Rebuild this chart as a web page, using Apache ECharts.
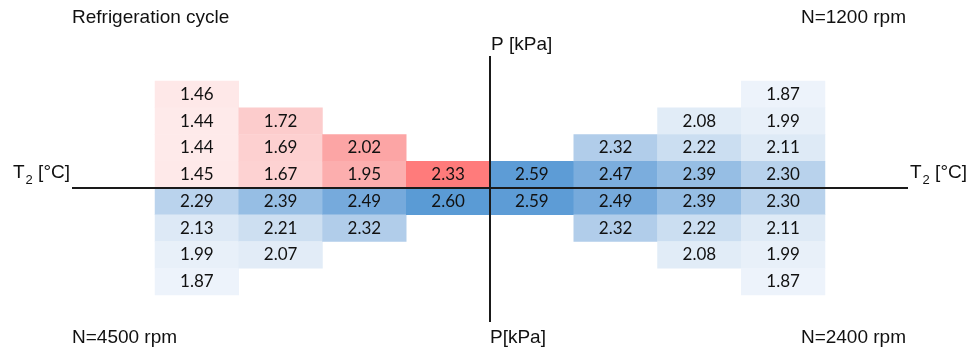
<!DOCTYPE html>
<html>
<head>
<meta charset="utf-8">
<script src="https://cdn.jsdelivr.net/npm/echarts@6/dist/echarts.min.js"></script>
<style>html,body{margin:0;padding:0;background:#fff;}#c{width:973px;height:360px;}</style>
</head>
<body>
<div id="c"></div>
<script>
// Column / row categories (hidden axes)
const colCats = ['c1', 'c2', 'c3', 'c4', 'c5', 'c6', 'c7', 'c8'];
const rowCats = ['r1', 'r2', 'r3', 'r4', 'r5', 'r6', 'r7', 'r8'];

// Top-left quadrant (refrigeration cycle, red), per column, top to bottom, ending at row 4
const redTopLeft = [[1.46, 1.44, 1.44, 1.45], [1.72, 1.69, 1.67], [2.02, 1.95], [2.33]];
// Bottom-left quadrant (N=4500 rpm), per column, starting at row 5
const blueBottomLeft = [[2.29, 2.13, 1.99, 1.87], [2.39, 2.21, 2.07], [2.49, 2.32], [2.60]];
// Top-right quadrant (N=1200 rpm), columns 5..8, ending at row 4
const blueTopRight = [[2.59], [2.32, 2.47], [2.08, 2.22, 2.39], [1.87, 1.99, 2.11, 2.30]];
// Bottom-right quadrant (N=2400 rpm), columns 5..8, starting at row 5
const blueBottomRight = [[2.59], [2.49, 2.32], [2.39, 2.22, 2.08], [2.30, 2.11, 1.99, 1.87]];

function endingAt(cols, colOffset, lastRow) {
  const out = [];
  cols.forEach((vals, i) => {
    const start = lastRow - vals.length + 1;
    vals.forEach((v, j) => out.push([colOffset + i, start + j, v]));
  });
  return out;
}
function startingAt(cols, colOffset, firstRow) {
  const out = [];
  cols.forEach((vals, i) => {
    vals.forEach((v, j) => out.push([colOffset + i, firstRow + j, v]));
  });
  return out;
}

const redData = endingAt(redTopLeft, 0, 3);
const blueData = startingAt(blueBottomLeft, 0, 4)
  .concat(endingAt(blueTopRight, 4, 3))
  .concat(startingAt(blueBottomRight, 4, 4));

const chart = echarts.init(document.getElementById('c'), null, { renderer: 'canvas' });

const labelFont = 'Liberation Sans, Arial, Helvetica, sans-serif';
const cellLabel = {
  show: true,
  fontFamily: 'Lato, sans-serif',
  fontSize: 17,
  color: '#111',
  formatter: p => p.value[2].toFixed(2)
};

function tLabel(x, align) {
  return {
    type: 'text', z: 100, x: x, y: 177,
    style: {
      text: '{t|T}{s|2}{t| [°C]}',
      align: align, verticalAlign: 'middle',
      fill: '#111',
      rich: {
        t: { fontFamily: labelFont, fontSize: 19, lineHeight: 20, padding: [0, 0, 5, 0], verticalAlign: 'bottom', fill: '#111' },
        s: { fontFamily: labelFont, fontSize: 13, lineHeight: 13, padding: [0, 0, 0, 1], verticalAlign: 'bottom', fill: '#111' }
      }
    }
  };
}
function plain(text, x, y, align) {
  return {
    type: 'text', z: 100, x: x, y: y,
    style: { text: text, fontFamily: labelFont, fontSize: 19, fill: '#111', align: align || 'left', verticalAlign: 'middle' }
  };
}

chart.setOption({
  animation: false,
  backgroundColor: '#fff',
  grid: { left: 155, width: 670, top: 81, height: 214 },
  xAxis: {
    type: 'category', data: colCats,
    axisLine: { show: false }, axisTick: { show: false }, axisLabel: { show: false }, splitLine: { show: false }
  },
  yAxis: {
    type: 'category', data: rowCats, inverse: true,
    axisLine: { show: false }, axisTick: { show: false }, axisLabel: { show: false }, splitLine: { show: false }
  },
  visualMap: [
    {
      show: false, type: 'continuous', seriesIndex: 0, dimension: 2,
      min: 1.44, max: 2.34,
      inRange: { color: ['#feeaea', '#fdd8d8', '#fcc3c3', '#fcaaaa', '#fd9494', '#ff7a7a'] }
    },
    {
      show: false, type: 'continuous', seriesIndex: 1, dimension: 2,
      min: 1.85, max: 2.60,
      inRange: { color: ['#eef4fb', '#e8f0f9', '#dbe8f5', '#b8d2ec', '#80b0de', '#5a9bd5'] }
    }
  ],
  series: [
    { type: 'heatmap', data: redData, label: cellLabel, itemStyle: { borderWidth: 0 }, emphasis: { disabled: true } },
    { type: 'heatmap', data: blueData, label: cellLabel, itemStyle: { borderWidth: 0 }, emphasis: { disabled: true } }
  ],
  graphic: [
    { type: 'line', z: 100, shape: { x1: 72, y1: 188, x2: 908, y2: 188 }, style: { stroke: '#1a1a1a', lineWidth: 2 } },
    { type: 'line', z: 100, shape: { x1: 490, y1: 56, x2: 490, y2: 322 }, style: { stroke: '#1a1a1a', lineWidth: 2 } },
    plain('Refrigeration cycle', 72, 18),
    plain('N=1200 rpm', 906, 18, 'right'),
    plain('N=4500 rpm', 72, 338),
    plain('N=2400 rpm', 906, 338, 'right'),
    plain('P [kPa]', 491, 45),
    plain('P[kPa]', 490, 338),
    tLabel(70, 'right'),
    tLabel(910, 'left')
  ]
});
</script>
</body>
</html>
